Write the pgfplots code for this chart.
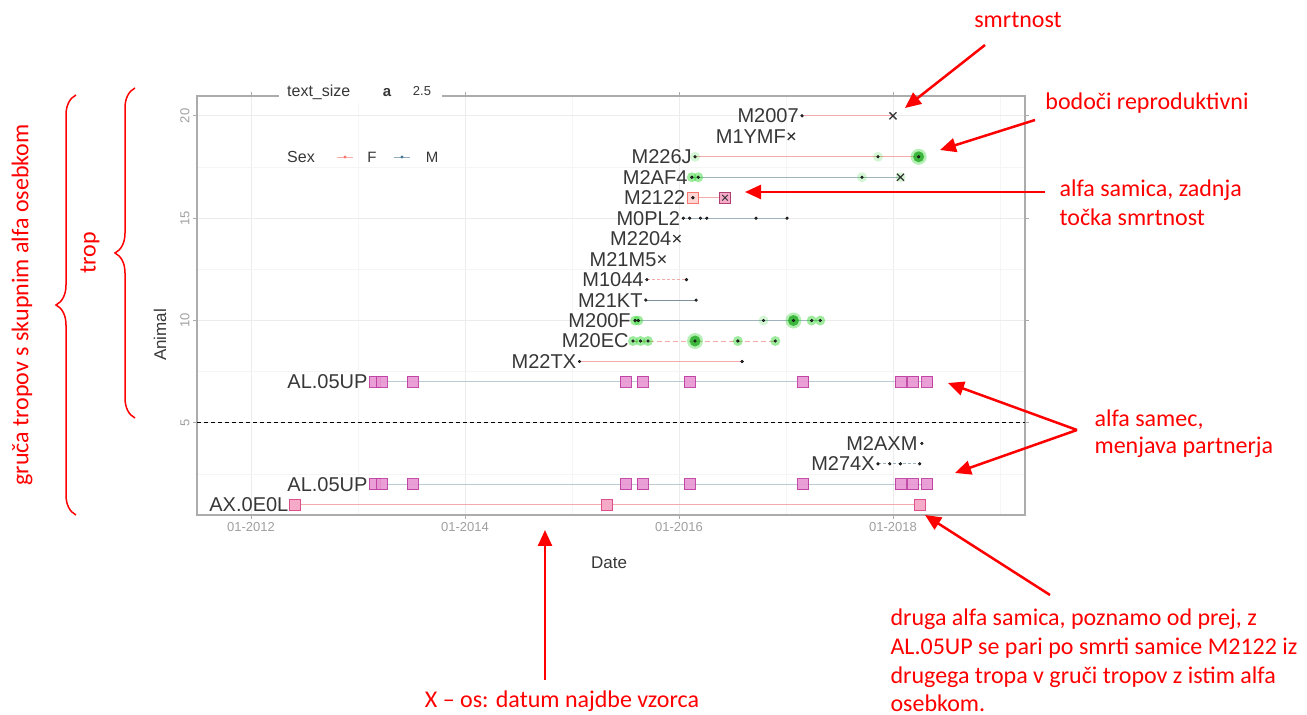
\documentclass[border=0pt]{standalone}
\usepackage{pgfplots}
\pgfplotsset{compat=1.18}
\usepackage{fontspec}
\setmainfont{Liberation Sans}
\newfontfamily\calfont{Carlito}
\usetikzlibrary{arrows.meta,decorations.pathreplacing}
\definecolor{fline}{RGB}{242,170,170}
\definecolor{mline}{RGB}{160,180,192}
\definecolor{magsq}{RGB}{190,60,160}
\definecolor{magfill}{RGB}{232,150,210}
\definecolor{pinksq}{RGB}{220,80,140}
\definecolor{pinkfill}{RGB}{245,170,200}
\definecolor{gglow}{RGB}{40,210,40}
\definecolor{annred}{RGB}{255,0,0}
\definecolor{labgray}{RGB}{55,55,55}
\definecolor{legF}{RGB}{248,118,109}
\definecolor{legM}{RGB}{70,120,150}
\begin{document}
\begin{tikzpicture}[x=1pt,y=1pt]
\useasboundingbox (0,0) rectangle (1307,715);
\begin{axis}[
  at={(197pt,200pt)}, anchor=south west,
  scale only axis, width=828pt, height=419pt,
  xmin=2011.495, xmax=2019.234, ymin=0.5, ymax=20.97,
  xtick={2012,2014,2016,2018}, xticklabels={01-2012,01-2014,01-2016,01-2018},
  minor xtick={2013,2015,2017,2019},
  ytick={5,10,15,20}, minor ytick={2.5,7.5,12.5,17.5},
  grid=both,
  major grid style={gray!15, line width=0.8pt},
  minor grid style={gray!8, line width=0.6pt},
  axis line style={gray!65, line width=1.2pt},
  tick style={gray!65, line width=0.8pt},
  tick align=outside, major tick length=4pt, minor tick length=0pt,
  ticklabel style={font=\fontsize{13}{15}\selectfont, text=gray!75},
  yticklabel style={rotate=90, anchor=south},
  /pgf/number format/assume math mode=true,
  clip=false,
]
% dashed separator
\addplot[black, line width=1pt, dash pattern=on 4pt off 3pt] coordinates {(2011.495,5)(2019.234,5)};
% lines (F pink, M blue-gray)
\addplot[fline, line width=1pt] coordinates {(2017.15,20)(2018.0,20)};
\addplot[fline, line width=1pt] coordinates {(2016.15,18)(2018.24,18)};
\addplot[mline, line width=1pt] coordinates {(2016.12,17)(2018.07,17)};
\addplot[fline, line width=1pt] coordinates {(2016.13,16)(2016.43,16)};
\addplot[mline, line width=1pt] coordinates {(2016.04,15)(2017.01,15)};
\addplot[fline, line width=1pt, dash pattern=on 3pt off 2pt] coordinates {(2015.70,12)(2016.07,12)};
\addplot[mline!80!black, line width=1pt] coordinates {(2015.69,11)(2016.16,11)};
\addplot[mline, line width=1pt] coordinates {(2015.59,10)(2017.32,10)};
\addplot[fline, line width=1pt, dash pattern=on 5pt off 3pt] coordinates {(2015.57,9)(2016.90,9)};
\addplot[fline, line width=1pt] coordinates {(2015.07,8)(2016.59,8)};
\addplot[mline!70, line width=1pt] coordinates {(2013.16,7)(2018.32,7)};
\addplot[mline, line width=1pt, dash pattern=on 3pt off 2pt] coordinates {(2017.86,3)(2018.25,3)};
\addplot[mline!70, line width=1pt] coordinates {(2013.16,2)(2018.32,2)};
\addplot[fline, line width=1pt] coordinates {(2012.41,1)(2018.25,1)};
% green glows
\addplot[gglow, only marks, mark=*, mark size=8pt, mark options={draw opacity=0, fill=gglow, fill opacity=0.35}] coordinates {
(2018.24,18)(2017.07,10)(2016.15,9)};
\addplot[gglow, only marks, mark=*, mark size=5.5pt, mark options={draw opacity=0, fill=gglow!80!black, fill opacity=0.8}] coordinates {
(2018.24,18)(2017.07,10)(2016.15,9)};
\addplot[gglow, only marks, mark=*, mark size=5pt, mark options={draw opacity=0, fill=gglow, fill opacity=0.45}] coordinates {
(2016.12,17)(2016.18,17)(2015.59,10)(2015.62,10)(2017.24,10)(2017.32,10)
(2015.57,9)(2015.64,9)(2015.71,9)(2016.55,9)(2016.90,9)};
\addplot[gglow, only marks, mark=*, mark size=5pt, mark options={draw opacity=0, fill=gglow, fill opacity=0.2}] coordinates {
(2017.71,17)(2018.07,17)(2016.15,18)(2017.86,18)(2016.79,10)};
% magenta squares (AL.05UP)
\addplot[only marks, mark=square*, mark size=5.5pt, mark options={draw=magsq, fill=magfill, line width=0.8pt, opacity=0.9}] coordinates {
(2013.16,7)(2013.22,7)(2013.51,7)(2015.50,7)(2015.66,7)(2016.10,7)(2017.16,7)(2018.07,7)(2018.19,7)(2018.32,7)
(2013.16,2)(2013.22,2)(2013.51,2)(2015.50,2)(2015.66,2)(2016.10,2)(2017.16,2)(2018.07,2)(2018.19,2)(2018.32,2)};
% pink squares (AX.0E0L)
\addplot[only marks, mark=square*, mark size=5.5pt, mark options={draw=pinksq, fill=pinkfill, line width=0.8pt}] coordinates {
(2012.41,1)(2015.33,1)(2018.25,1)};
% M2122 squares
\addplot[only marks, mark=square*, mark size=5.5pt, mark options={draw=legF, fill=legF!30, line width=0.8pt}] coordinates {(2016.13,16)};
\addplot[only marks, mark=square*, mark size=5.5pt, mark options={draw=pinksq!80!black, fill=pinkfill, line width=0.8pt}] coordinates {(2016.43,16)};
\addplot[only marks, mark=x, mark size=4pt, mark options={draw=black!80, line width=1pt}] coordinates {(2016.43,16)};
% dots
\addplot[only marks, mark=*, mark size=1.4pt, mark options={draw=none, fill=labgray}] coordinates {
(2017.15,20)(2016.15,18)(2017.86,18)(2018.24,18)(2016.12,17)(2016.18,17)(2017.71,17)(2016.13,16)
(2016.04,15)(2016.10,15)(2016.20,15)(2016.26,15)(2016.72,15)(2017.01,15)
(2015.70,12)(2016.07,12)(2015.69,11)(2016.16,11)
(2015.59,10)(2015.62,10)(2016.79,10)(2017.07,10)(2017.24,10)(2017.32,10)
(2015.57,9)(2015.64,9)(2015.71,9)(2016.15,9)(2016.55,9)(2016.90,9)
(2015.07,8)(2016.59,8)(2018.27,4)(2017.86,3)(2017.97,3)(2018.07,3)(2018.25,3)};
% crosses
\addplot[only marks, mark=x, mark size=5pt, mark options={draw=black!80, line width=1.3pt}] coordinates {
(2018.0,20)(2017.05,19)(2018.07,17)(2015.98,14)(2015.84,13)};
% labels
\addplot[draw=none, mark=none, nodes near coords, point meta=explicit symbolic,
  every node near coord/.style={anchor=east, inner sep=1pt, font=\fontsize{20}{22}\selectfont, text=labgray}]
table[meta=label] {
x y label
2017.13 20 M2007
2017.01 19 M1YMF
2016.13 18 M226J
2016.09 17 M2AF4
2016.07 16 M2122
2016.02 15 M0PL2
2015.94 14 M2204
2015.80 13 M21M5
2015.68 12 M1044
2015.67 11 M21KT
2015.56 10 M200F
2015.54 9 M20EC
2015.05 8 M22TX
2013.10 7 AL.05UP
2018.24 4 M2AXM
2017.84 3 M274X
2013.10 2 AL.05UP
2012.36 1 AX.0E0L
};
\end{axis}
% top guide legend over the border
\fill[white] (279,612) rectangle (442,630);
\node[anchor=west, inner sep=0pt, font=\fontsize{16}{18}\selectfont, text=labgray] at (287,623) {text\_size};
\node[inner sep=0pt, font=\bfseries\fontsize{15}{18}\selectfont, text=labgray] at (387,622) {a};
\node[inner sep=0pt, font=\fontsize{13}{15}\selectfont, text=labgray] at (422,624) {2.5};
% Sex legend
\node[anchor=west, inner sep=0pt, font=\fontsize{16}{18}\selectfont, text=labgray] at (287,558) {Sex};
\draw[legF!60, line width=0.8pt] (337,558) -- (353,558);
\fill[legF] (345,558) circle (1.6pt);
\node[inner sep=0pt, font=\fontsize{15}{18}\selectfont, text=labgray] at (372,558) {F};
\draw[legM!60, line width=0.8pt] (394,558) -- (410,558);
\fill[legM] (402,558) circle (1.6pt);
\node[inner sep=0pt, font=\fontsize{15}{18}\selectfont, text=labgray] at (432,558) {M};
% axis titles
\node[font=\fontsize{17}{19}\selectfont, text=labgray] at (609,152) {Date};
\node[rotate=90, font=\fontsize{17}{19}\selectfont, text=labgray] at (160,380) {Animal};
% annotations
\begin{scope}[annred, line width=2.5pt, font=\calfont\fontsize{24}{30}\selectfont]
\node[text=annred] at (1018,695) {smrtnost};
\draw[-{Triangle[length=16pt,width=14pt]}] (985,670) -- (905,607);
\node[text=annred] at (1147,612) {bodoči reproduktivni};
\draw[-{Triangle[length=16pt,width=14pt]}] (1035,595) -- (940,565);
\node[text=annred, anchor=west] at (1055,525) {alfa samica, zadnja};
\node[text=annred, anchor=west] at (1055,498) {točka smrtnost};
\draw[-{Triangle[length=16pt,width=14pt]}] (1045,523) -- (745,523);
\node[text=annred, anchor=west] at (1090,295) {alfa samec,};
\node[text=annred, anchor=west] at (1090,268) {menjava partnerja};
\draw[-{Triangle[length=16pt,width=14pt]}] (1077,285) -- (948,332);
\draw[-{Triangle[length=16pt,width=14pt]}] (1077,285) -- (955,242);
\node[text=annred, anchor=west] at (886,96) {druga alfa samica, poznamo od prej, z};
\node[text=annred, anchor=west] at (886,67) {AL.05UP se pari po smrti samice M2122 iz};
\node[text=annred, anchor=west] at (886,38) {drugega tropa v gruči tropov z istim alfa};
\node[text=annred, anchor=west] at (886,12) {osebkom.};
\draw[-{Triangle[length=16pt,width=14pt]}] (1050,120) -- (925,200);
\node[text=annred] at (562,14) {X – os: datum najdbe vzorca};
\draw[-{Triangle[length=16pt,width=14pt]}] (545,35) -- (545,185);
\draw[line width=1.5pt, decorate, decoration={brace, amplitude=20pt}] (135,297) -- (135,627);
\node[text=annred, rotate=90] at (90,462) {trop};
\draw[line width=1.5pt, decorate, decoration={brace, amplitude=20pt}] (76,200) -- (76,620);
\node[text=annred, rotate=90] at (22,410) {gruča tropov s skupnim alfa osebkom};
\end{scope}
\end{tikzpicture}
\end{document}
